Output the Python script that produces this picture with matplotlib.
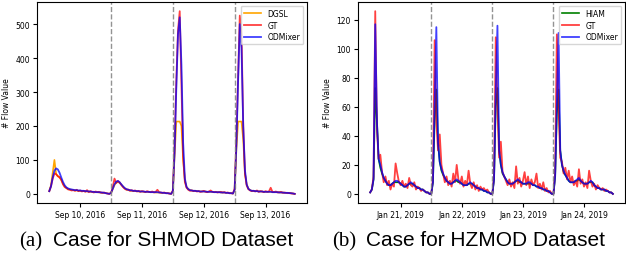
import matplotlib.pyplot as plt
import numpy as np

# ---- SHMOD (4 days x 36 points) ----
sh_days = ['Sep 10, 2016', 'Sep 11, 2016', 'Sep 12, 2016', 'Sep 13, 2016']
sh_gt = [8, 22, 45, 60, 58, 52, 48, 42, 28, 20, 17, 13, 12, 10, 11, 9, 12, 8, 10, 7, 9, 6, 11, 5, 8, 6, 4, 7, 5, 6, 4, 3, 4, 2, 1, 0,
         3, 20, 45, 32, 38, 34, 26, 20, 15, 12, 13, 9, 11, 8, 10, 7, 9, 6, 8, 7, 5, 8, 6, 5, 7, 4, 6, 12, 5, 4, 3, 4, 2, 2, 1, 0,
         10, 140, 330, 480, 538, 330, 110, 35, 18, 12, 9, 10, 8, 9, 7, 8, 6, 7, 9, 6, 5, 7, 10, 6, 5, 6, 4, 5, 6, 4, 5, 3, 4, 2, 2, 1,
         15, 160, 340, 525, 470, 200, 60, 25, 14, 10, 8, 9, 7, 10, 6, 8, 7, 5, 8, 6, 7, 18, 6, 5, 7, 4, 5, 6, 3, 4, 3, 2, 3, 1, 1, 0]
sh_odm = [8, 22, 48, 68, 75, 72, 62, 48, 35, 25, 19, 16, 14, 13, 12, 11, 11, 10, 10, 9, 9, 8, 8, 7, 7, 6, 6, 5, 5, 5, 4, 4, 3, 2, 1, 0,
          3, 15, 28, 36, 38, 34, 28, 22, 17, 14, 12, 11, 10, 9, 9, 8, 8, 7, 7, 7, 6, 6, 6, 5, 5, 5, 5, 5, 4, 4, 3, 3, 2, 2, 1, 0,
          8, 120, 310, 470, 520, 380, 150, 45, 20, 14, 11, 10, 9, 9, 8, 8, 7, 7, 7, 7, 6, 6, 6, 6, 5, 5, 5, 5, 4, 4, 4, 3, 3, 2, 2, 1,
          12, 140, 330, 500, 430, 200, 70, 28, 15, 11, 9, 9, 8, 8, 7, 7, 7, 6, 6, 6, 6, 6, 5, 5, 5, 5, 4, 4, 4, 3, 3, 3, 2, 2, 1, 0]
sh_dgsl = [8, 25, 62, 100, 58, 52, 50, 40, 30, 22, 17, 14, 13, 12, 11, 10, 10, 9, 9, 8, 8, 8, 7, 7, 6, 6, 6, 5, 5, 4, 4, 3, 3, 2, 1, 0,
           3, 14, 26, 33, 35, 32, 27, 21, 16, 13, 11, 10, 9, 9, 8, 8, 7, 7, 7, 6, 6, 6, 5, 5, 5, 5, 4, 4, 4, 3, 3, 3, 2, 2, 1, 0,
           8, 110, 213, 213, 213, 200, 100, 40, 20, 14, 11, 10, 9, 9, 8, 8, 7, 7, 7, 7, 6, 6, 6, 6, 5, 5, 5, 5, 4, 4, 4, 3, 3, 2, 2, 1,
           12, 130, 213, 213, 213, 160, 60, 28, 15, 11, 9, 9, 8, 8, 7, 7, 7, 6, 6, 6, 6, 6, 5, 5, 5, 5, 4, 4, 4, 3, 3, 3, 2, 2, 1, 0]

# ---- HZMOD (4 days x 36 points) ----
hz_days = ['Jan 21, 2019', 'Jan 22, 2019', 'Jan 23, 2019', 'Jan 24, 2019']
hz_gt = [1, 3, 12, 126, 45, 24, 27, 15, 8, 12, 6, 9, 3, 7, 5, 21, 14, 8, 6, 9, 5, 7, 4, 11, 6, 5, 8, 3, 5, 4, 2, 3, 2, 1, 1, 0,
         0, 10, 106, 50, 30, 41, 20, 14, 8, 12, 6, 9, 5, 14, 8, 20, 10, 7, 12, 5, 9, 6, 16, 7, 4, 8, 3, 6, 2, 5, 3, 4, 2, 3, 1, 0,
         0, 12, 108, 60, 25, 36, 15, 12, 9, 6, 10, 5, 8, 4, 19, 7, 11, 5, 9, 15, 6, 12, 4, 10, 6, 8, 14, 4, 7, 3, 8, 2, 4, 1, 2, 0,
         0, 15, 110, 60, 25, 22, 14, 18, 10, 16, 8, 12, 6, 9, 5, 17, 7, 10, 5, 8, 4, 16, 9, 5, 7, 3, 6, 4, 3, 4, 2, 3, 2, 1, 1, 0]
hz_odm = [1, 3, 10, 117, 50, 24, 20, 15, 11, 9, 7, 6, 6, 7, 8, 9, 9, 8, 7, 6, 5, 5, 6, 7, 8, 7, 6, 5, 4, 4, 3, 3, 2, 1, 1, 0,
          0, 8, 60, 115, 35, 22, 17, 14, 11, 9, 8, 7, 7, 8, 9, 10, 9, 8, 7, 6, 6, 6, 7, 8, 7, 6, 5, 4, 4, 3, 3, 2, 2, 1, 1, 0,
          0, 10, 70, 116, 30, 20, 15, 12, 10, 8, 7, 7, 7, 8, 9, 10, 9, 8, 7, 7, 7, 8, 8, 7, 6, 6, 5, 5, 4, 4, 3, 3, 2, 2, 1, 0,
          0, 12, 60, 111, 30, 20, 16, 13, 11, 9, 8, 8, 8, 9, 10, 11, 9, 8, 7, 7, 7, 8, 9, 8, 6, 5, 4, 4, 3, 3, 3, 2, 2, 1, 1, 0]
hz_hiam = [1, 3, 10, 73, 50, 24, 18, 14, 11, 9, 7, 6, 6, 7, 8, 8, 8, 8, 7, 6, 5, 5, 6, 7, 7, 7, 6, 5, 4, 4, 3, 3, 2, 1, 1, 0,
           0, 8, 50, 72, 35, 22, 16, 13, 11, 9, 8, 7, 7, 8, 9, 9, 8, 8, 7, 6, 6, 6, 7, 7, 7, 6, 5, 4, 4, 3, 3, 2, 2, 1, 1, 0,
           0, 10, 60, 73, 30, 20, 14, 12, 10, 8, 7, 7, 7, 8, 9, 9, 8, 8, 7, 7, 7, 7, 7, 7, 6, 6, 5, 5, 4, 4, 3, 3, 2, 2, 1, 0,
           0, 12, 55, 72, 30, 20, 15, 13, 11, 9, 8, 8, 8, 9, 9, 10, 9, 8, 7, 7, 7, 8, 8, 8, 6, 5, 4, 4, 3, 3, 3, 2, 2, 1, 1, 0]

N = 36
fs = 5.5

fig = plt.figure(figsize=(6.26, 2.55), dpi=100)
ax1 = fig.add_axes([0.0591, 0.2, 0.4313, 0.788])
ax2 = fig.add_axes([0.5719, 0.2, 0.4265, 0.788])


def draw(ax, base, base_name, base_color, gt, odm, days):
    x = np.arange(len(gt))
    ax.plot(x, base, color=base_color, lw=1.2, label=base_name)
    ax.plot(x, gt, color='red', lw=1.3, alpha=0.75, label='GT')
    ax.plot(x, odm, color='blue', lw=1.3, alpha=0.75, label='ODMixer')
    for k in range(1, 4):
        ax.axvline(k * N, color='gray', ls='--', lw=1, alpha=0.85)
    ax.set_xticks([k * N + N / 2 for k in range(4)])
    ax.set_xticklabels(days)
    ax.tick_params(labelsize=fs, length=3, width=0.8, pad=2)
    ax.set_ylabel('# Flow Value', fontsize=fs)
    ax.yaxis.set_label_coords(-0.096, 0.5)
    ax.legend(loc='upper right', fontsize=fs, handlelength=2.3, borderpad=0.4,
              labelspacing=0.35, handletextpad=0.8)


draw(ax1, sh_dgsl, 'DGSL', 'orange', sh_gt, sh_odm, sh_days)
draw(ax2, hz_hiam, 'HIAM', 'green', hz_gt, hz_odm, hz_days)
ax1.set_yticks([0, 100, 200, 300, 400, 500])
ax2.set_yticks([0, 20, 40, 60, 80, 100, 120])

# captions
fig.text(19 / 626, 9 / 255, '(a)', family='Liberation Serif', fontsize=15, va='baseline')
fig.text(52.7 / 626, 9 / 255, 'Case for SHMOD Dataset', family='Liberation Sans', fontsize=15, va='baseline')
fig.text(332 / 626, 9 / 255, '(b)', family='Liberation Serif', fontsize=15, va='baseline')
fig.text(366 / 626, 9 / 255, 'Case for HZMOD Dataset', family='Liberation Sans', fontsize=15, va='baseline')

plt.savefig('out.png', dpi=100)
